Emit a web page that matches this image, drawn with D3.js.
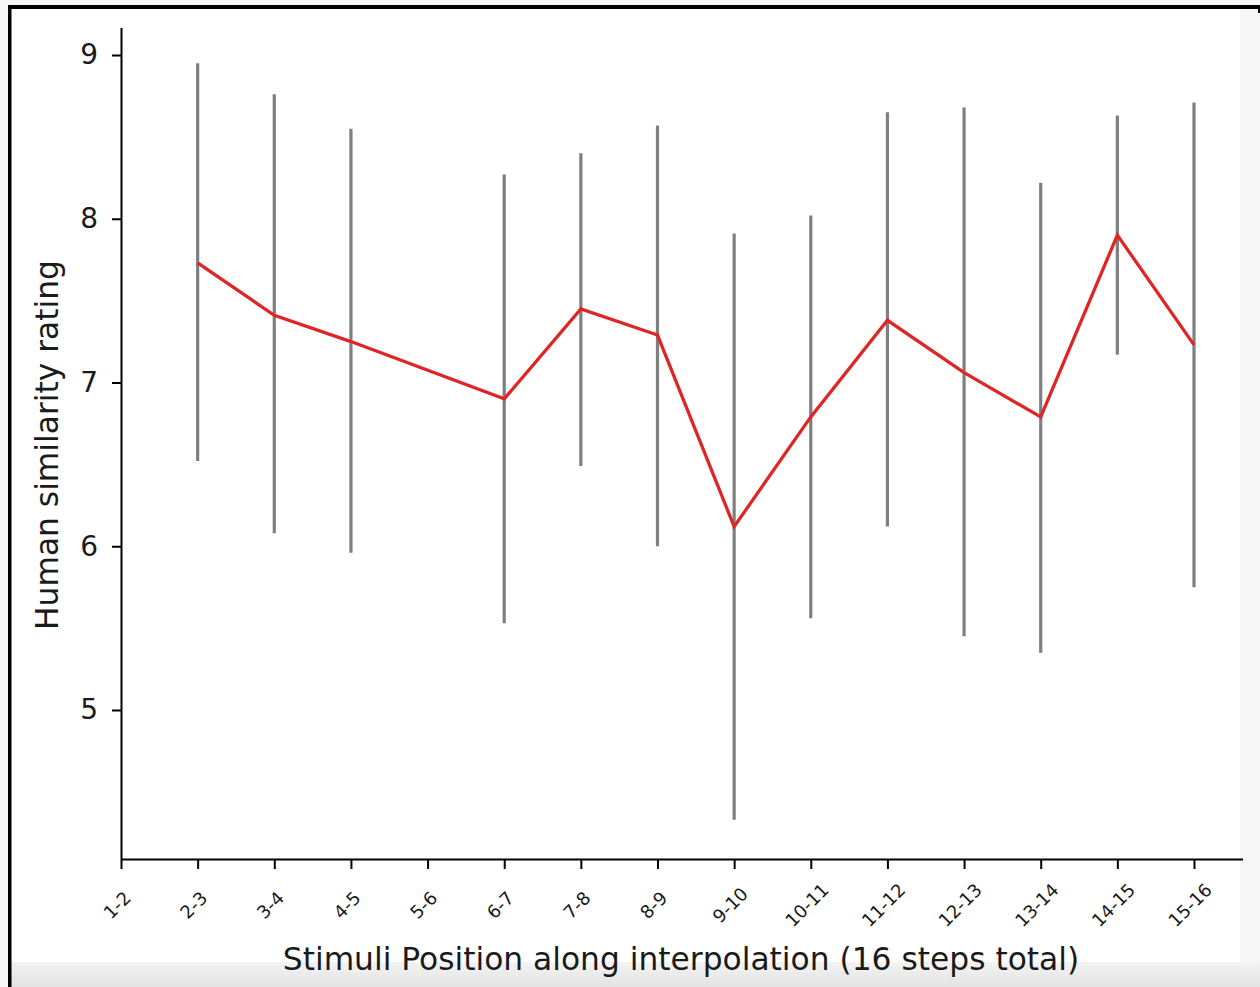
<!DOCTYPE html>
<html>
<head>
<meta charset="utf-8">
<script src="https://cdn.jsdelivr.net/npm/d3@7/dist/d3.min.js"></script>
<style>
  html, body { margin: 0; padding: 0; background: #ffffff; }
  svg { display: block; }
  text { font-family: "DejaVu Sans", sans-serif; fill: #1a1a1a; }
</style>
</head>
<body>
<svg id="chart" width="1260" height="987"></svg>
<script>
// ---- data ----
const categories = ["1-2","2-3","3-4","4-5","5-6","6-7","7-8","8-9","9-10","10-11","11-12","12-13","13-14","14-15","15-16"];
const means = [null, 7.73, 7.41, 7.25, null, 6.90, 7.45, 7.29, 6.12, 6.79, 7.38, 7.06, 6.79, 7.90, 7.23];
const lower = [null, 6.52, 6.08, 5.96, null, 5.53, 6.49, 6.00, 4.33, 5.56, 6.12, 5.45, 5.35, 7.17, 5.75];
const upper = [null, 8.95, 8.76, 8.55, null, 8.27, 8.40, 8.57, 7.91, 8.02, 8.65, 8.68, 8.22, 8.63, 8.71];
const yTicks = [5, 6, 7, 8, 9];
const xLabel = "Stimuli Position along interpolation (16 steps total)";
const yLabel = "Human similarity rating";

(function () {
const svg = d3.select("#chart");
const W = 1260, H = 987;

// ---- screenshot frame ----
svg.append("rect").attr("x", 0).attr("y", 0).attr("width", W).attr("height", H).attr("fill", "#f6f6f6");
svg.append("rect").attr("x", 11).attr("y", 9).attr("width", 1229).attr("height", 953).attr("fill", "#ffffff");
const grad = svg.append("defs").append("linearGradient").attr("id", "bot").attr("x1", 0).attr("y1", 0).attr("x2", 0).attr("y2", 1);
grad.append("stop").attr("offset", "0%").attr("stop-color", "#f3f3f3");
grad.append("stop").attr("offset", "100%").attr("stop-color", "#e2e2e2");
svg.append("rect").attr("x", 11).attr("y", 962).attr("width", W - 11).attr("height", H - 962).attr("fill", "url(#bot)");
svg.append("rect").attr("x", 8).attr("y", 5).attr("width", 3.5).attr("height", H - 5).attr("fill", "#000");
svg.append("rect").attr("x", 8).attr("y", 5).attr("width", W - 8).attr("height", 4).attr("fill", "#000");
svg.append("rect").attr("x", W - 2).attr("y", 5).attr("width", 2).attr("height", 8).attr("fill", "#000");

// ---- plot area ----
const pL = 121, pR = 1243, pT = 28, pB = 859;
const step = (1194 - 121) / 14;
const x = d3.scaleLinear().domain([0, (pR - pL) / step]).range([pL, pR]);
const y = d3.scaleLinear().domain([4.09, 9.165]).range([pB, pT]);

const g = svg.append("g");

// error bars
const idx = d3.range(categories.length).filter(i => means[i] != null);
g.selectAll("line.err").data(idx).enter().append("line")
  .attr("class", "err")
  .attr("x1", i => x(i)).attr("x2", i => x(i))
  .attr("y1", i => y(lower[i])).attr("y2", i => y(upper[i]))
  .attr("stroke", "#7f7f7f").attr("stroke-width", 3.2);

// mean line
const line = d3.line().x(i => x(i)).y(i => y(means[i]));
g.append("path").datum(idx).attr("d", line)
  .attr("fill", "none").attr("stroke", "#de2626").attr("stroke-width", 3.3).attr("stroke-linejoin", "miter");

// x axis
const xAxis = d3.axisBottom(x).tickValues(d3.range(categories.length)).tickSize(10).tickFormat("");
const gx = svg.append("g").attr("transform", `translate(0,${pB})`).call(xAxis);
gx.select(".domain").attr("stroke", "#000").attr("stroke-width", 2).attr("d", `M${pL},0.5H${pR}`);
gx.selectAll(".tick line").attr("stroke", "#000").attr("stroke-width", 2);
svg.append("g").selectAll("text.xt").data(categories).enter().append("text")
  .attr("class", "xt")
  .attr("transform", (d, i) => `translate(${x(i) - 4},${905}) rotate(-45)`)
  .attr("text-anchor", "middle").attr("dominant-baseline", "central")
  .attr("font-size", 18).text(d => d);

// y axis
const yAxis = d3.axisLeft(y).tickValues(yTicks).tickSize(9).tickPadding(14).tickFormat(d3.format("d"));
const gy = svg.append("g").attr("transform", `translate(${pL},0)`).call(yAxis);
gy.select(".domain").attr("stroke", "#000").attr("stroke-width", 2).attr("d", `M0.5,${pT}V${pB}`);
gy.selectAll(".tick line").attr("stroke", "#000").attr("stroke-width", 2);
gy.selectAll(".tick text").attr("font-size", 28).attr("font-family", "DejaVu Sans, sans-serif").attr("fill", "#1a1a1a");

// axis labels
svg.append("text").attr("x", 681).attr("y", 970).attr("text-anchor", "middle")
  .attr("font-size", 31.3).text(xLabel);
svg.append("text").attr("transform", `translate(58,445) rotate(-90)`).attr("text-anchor", "middle")
  .attr("font-size", 31.3).text(yLabel);
})();
</script>
</body>
</html>
